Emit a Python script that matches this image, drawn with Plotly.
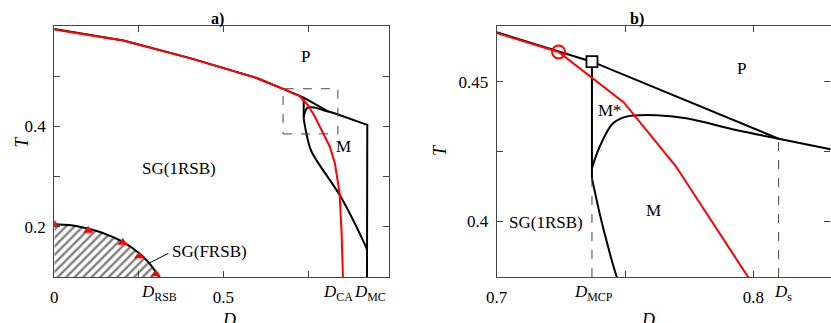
import plotly.graph_objects as go

# ---------------- data ----------------
upper_D = [0.0, 0.204, 0.401, 0.598, 0.676, 0.7241, 0.7371, 0.8098, 0.83, 0.925, 0.925, 0.924, 0.924]
upper_T = [0.594, 0.571, 0.536, 0.4965, 0.4746, 0.4607, 0.4572, 0.4296, 0.4258, 0.403, 0.25, 0.161, 0.1]

red_D = [0.0, 0.204, 0.401, 0.598, 0.676, 0.70, 0.7241, 0.7369, 0.7495, 0.7697, 0.7981, 0.814, 0.829, 0.843, 0.849, 0.853]
red_T = [0.593, 0.571, 0.536, 0.4965, 0.4746, 0.4675, 0.4607, 0.4517, 0.4426, 0.4198, 0.3797, 0.36, 0.327, 0.267, 0.187, 0.1]

dome_D = [0.8098, 0.7932, 0.7738, 0.7622, 0.7505, 0.7453, 0.7401, 0.7371]
dome_T = [0.4296, 0.4327, 0.4369, 0.4380, 0.4375, 0.4351, 0.4267, 0.419]

low_D = [0.7371, 0.7401, 0.7434, 0.7469, 0.760, 0.849, 0.917, 0.924]
low_T = [0.4154, 0.4028, 0.3908, 0.3797, 0.350, 0.257, 0.166, 0.155]

mcp_D = [0.7371, 0.7371]
mcp_T = [0.4572, 0.4154]

frsb_D = [0.0, 0.05, 0.10, 0.15, 0.20, 0.25, 0.28, 0.30, 0.31]
frsb_T = [0.205, 0.203, 0.196, 0.186, 0.171, 0.148, 0.128, 0.110, 0.1]
tri_D = [0.0, 0.100, 0.202, 0.251, 0.300]
tri_T = [0.205, 0.1927, 0.1687, 0.142, 0.106]

circle_D, circle_T = [0.7241], [0.4607]
square_D, square_T = [0.7371], [0.4572]

D_RSB, D_CA, D_MC = 0.309, 0.8386, 0.934
D_MCP, D_S = 0.7371, 0.8098

box_D = [0.676, 0.838]
box_T = [0.385, 0.475]

FONT = "Liberation Serif"
BLACK = "#000000"
RED = "#ff0000"
AXC = "#444444"

fig = go.Figure()

def add_curves(xa, ya, left):
    if left:
        fig.add_trace(go.Scatter(x=frsb_D, y=frsb_T, mode="lines", line=dict(color=BLACK, width=2, shape="spline"),
                                 fill="tozeroy", fillcolor="white",
                                 fillpattern=dict(shape="/", fgcolor=BLACK, bgcolor="white", size=6, solidity=0.4),
                                 xaxis=xa, yaxis=ya, showlegend=False, hoverinfo="skip"))
        fig.add_trace(go.Scatter(x=tri_D, y=tri_T, mode="markers",
                                 marker=dict(symbol="triangle-up", color=RED, size=9),
                                 xaxis=xa, yaxis=ya, showlegend=False, cliponaxis=True))
    fig.add_trace(go.Scatter(x=upper_D, y=upper_T, mode="lines", line=dict(color=BLACK, width=2),
                             xaxis=xa, yaxis=ya, showlegend=False))
    fig.add_trace(go.Scatter(x=dome_D, y=dome_T, mode="lines", line=dict(color=BLACK, width=2, shape="spline"),
                             xaxis=xa, yaxis=ya, showlegend=False))
    fig.add_trace(go.Scatter(x=low_D, y=low_T, mode="lines", line=dict(color=BLACK, width=2, shape="spline"),
                             xaxis=xa, yaxis=ya, showlegend=False))
    fig.add_trace(go.Scatter(x=mcp_D, y=mcp_T, mode="lines", line=dict(color=BLACK, width=2),
                             xaxis=xa, yaxis=ya, showlegend=False))
    fig.add_trace(go.Scatter(x=red_D, y=red_T, mode="lines", line=dict(color=RED, width=2),
                             xaxis=xa, yaxis=ya, showlegend=False))
    if not left:
        fig.add_trace(go.Scatter(x=circle_D, y=circle_T, mode="markers",
                                 marker=dict(symbol="circle-open", color=RED, size=13, line=dict(width=2, color=RED)),
                                 xaxis=xa, yaxis=ya, showlegend=False))
        fig.add_trace(go.Scatter(x=square_D, y=square_T, mode="markers",
                                 marker=dict(symbol="square", color="white", size=11, line=dict(width=1.8, color=BLACK)),
                                 xaxis=xa, yaxis=ya, showlegend=False))

add_curves("x", "y", True)
add_curves("x2", "y2", False)

fig.add_shape(type="line", xref="x2", yref="y2", x0=D_MCP, x1=D_MCP, y0=0.38, y1=0.4154,
              line=dict(color="#444", width=1, dash="dash"))
fig.add_shape(type="line", xref="x2", yref="y2", x0=D_S, x1=D_S, y0=0.38, y1=0.4296,
              line=dict(color="#444", width=1, dash="dash"))
fig.add_shape(type="rect", xref="x", yref="y", x0=box_D[0], x1=box_D[1], y0=box_T[0], y1=box_T[1],
              line=dict(color="#444", width=1, dash="dash"))
fig.add_shape(type="line", xref="x", yref="y", x0=0.278, y0=0.127, x1=0.337, y1=0.147,
              line=dict(color=BLACK, width=1))

axis_common = dict(showline=True, linecolor=AXC, linewidth=1.2, mirror="allticks", ticks="inside",
                   ticklen=6, tickcolor=AXC, showgrid=False, zeroline=False, automargin=False,
                   tickfont=dict(family=FONT, size=17, color=BLACK), ticklabelstandoff=4)

def minor(d, t0):
    return dict(dtick=d, tick0=t0, ticks="inside", ticklen=6, tickcolor=AXC, showgrid=False)

fig.update_layout(
    width=831, height=323, margin=dict(l=0, r=0, t=26, b=46, autoexpand=False),
    paper_bgcolor="white", plot_bgcolor="white",
    font=dict(family=FONT, size=17, color=BLACK),
    xaxis=dict(domain=[54.3 / 831, 389.3 / 831], range=[0, 0.99], anchor="y",
               tickvals=[0, 0.5], ticktext=["0", "0.5"], minor=minor(0.25, 0), **axis_common),
    yaxis=dict(domain=[0, 1], range=[0.1, 0.6], anchor="x",
               tickvals=[0.2, 0.4], ticktext=["0.2", "0.4"], minor=minor(0.1, 0), **axis_common),
    xaxis2=dict(domain=[496.7 / 831, 830.5 / 831], range=[0.7, 0.83], anchor="y2",
                tickvals=[0.7, 0.8], ticktext=["0.7", "0.8"], minor=minor(0.05, 0), **axis_common),
    yaxis2=dict(domain=[0, 1], range=[0.38, 0.47], anchor="x2",
                tickvals=[0.4, 0.45], ticktext=["0.4", "0.45"], minor=minor(0.025, 0), **axis_common),
)

def txt(x, y, s, xref="x", yref="y", size=17, **kw):
    fig.add_annotation(x=x, y=y, xref=xref, yref=yref, text=s, showarrow=False,
                       font=dict(family=FONT, size=size, color=BLACK), **kw)

txt(0.743, 0.54, "P")
txt(0.856, 0.36, "M")
txt(0.368, 0.316, "SG(1RSB)")
txt(0.46, 0.151, "SG(FRSB)")
txt(0.7952, 0.4549, "P", xref="x2", yref="y2")
txt(0.7440, 0.4396, "M*", xref="x2", yref="y2")
txt(0.7612, 0.4037, "M", xref="x2", yref="y2")
txt(0.7192, 0.3994, "SG(1RSB)", xref="x2", yref="y2")

ylab = (277 - 293) / 251
for xv, s, xr in [(D_RSB, "<i>D</i><sub>RSB</sub>", "x"), (D_CA, "<i>D</i><sub>CA</sub>", "x"),
                  (D_MC, "<i>D</i><sub>MC</sub>", "x"), (0.7378, "<i>D</i><sub>MCP</sub>", "x2"),
                  (0.8114, "<i>D</i><sub>s</sub>", "x2")]:
    txt(xv, ylab, s, xref=xr, yref="paper", yanchor="middle")

txt(220 / 831, (277 - 308) / 251, "<i>D</i>", xref="paper", yref="paper", size=18, yanchor="top")
txt(656.7 / 831, (277 - 308) / 251, "<i>D</i>", xref="paper", yref="paper", size=18, yanchor="top")
txt(10 / 831, (277 - 141.7) / 251, "<i>T</i>", xref="paper", yref="paper", size=18, textangle=-90)
txt(440 / 831, (277 - 150) / 251, "<i>T</i>", xref="paper", yref="paper", size=18, textangle=-90)

txt(209 / 831, (277 - 8) / 251, "<b>a)</b>", xref="paper", yref="paper", size=16)
txt(646 / 831, (277 - 8) / 251, "<b>b)</b>", xref="paper", yref="paper", size=16)

fig.write_html("out.html", config={"displayModeBar": False},
               post_script="document.body.style.margin='0';document.body.style.overflow='hidden';")
